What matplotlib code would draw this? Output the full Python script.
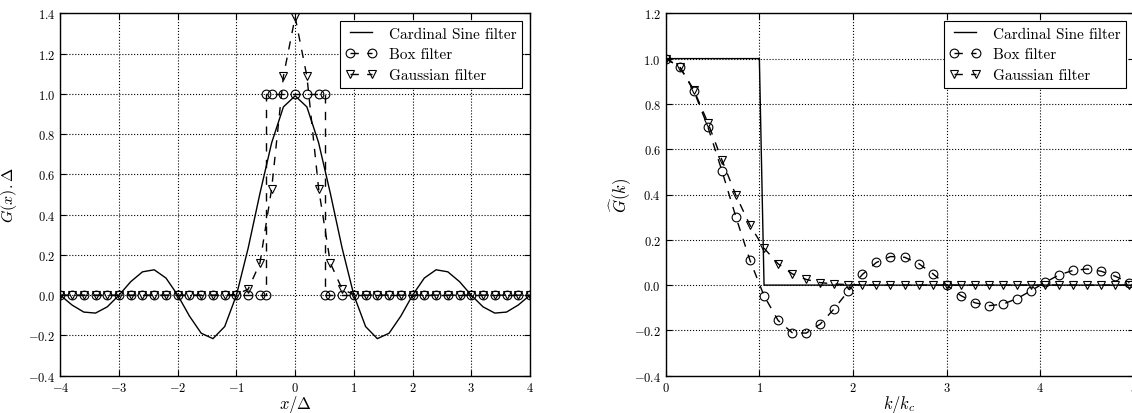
import matplotlib
matplotlib.use("Agg")
import matplotlib.pyplot as plt
import numpy as np

plt.rcParams.update({
    "font.family": "serif",
    "font.serif": ["cmr10", "DejaVu Serif"],
    "mathtext.fontset": "cm",
    "axes.formatter.use_mathtext": True,
    "axes.unicode_minus": True,
    "lines.dashed_pattern": [6, 6],
})

# ---------------- Left panel data: physical space ----------------
x_sinc = [-4.0, -3.8, -3.6, -3.4, -3.2, -3.0, -2.8, -2.6, -2.4, -2.2, -2.0,
          -1.8, -1.6, -1.4, -1.2, -1.0, -0.8, -0.6, -0.4, -0.2, 0.0,
          0.2, 0.4, 0.6, 0.8, 1.0, 1.2, 1.4, 1.6, 1.8, 2.0,
          2.2, 2.4, 2.6, 2.8, 3.0, 3.2, 3.4, 3.6, 3.8, 4.0]
g_sinc = [0.000, -0.049, -0.084, -0.089, -0.058, 0.000, 0.067, 0.116, 0.126, 0.085, 0.000,
          -0.104, -0.189, -0.216, -0.156, 0.000, 0.234, 0.505, 0.757, 0.935, 0.990,
          0.935, 0.757, 0.505, 0.234, 0.000, -0.156, -0.216, -0.189, -0.104, 0.000,
          0.085, 0.126, 0.116, 0.067, 0.000, -0.058, -0.089, -0.084, -0.049, 0.000]

x_box = [-4.0, -3.8, -3.6, -3.4, -3.2, -3.0, -2.8, -2.6, -2.4, -2.2, -2.0,
         -1.8, -1.6, -1.4, -1.2, -1.0, -0.8, -0.6, -0.5, -0.5, -0.4, -0.2, 0.0,
         0.2, 0.4, 0.5, 0.5, 0.6, 0.8, 1.0, 1.2, 1.4, 1.6, 1.8, 2.0,
         2.2, 2.4, 2.6, 2.8, 3.0, 3.2, 3.4, 3.6, 3.8, 4.0]
g_box = [0, 0, 0, 0, 0, 0, 0, 0, 0, 0, 0,
         0, 0, 0, 0, 0, 0, 0, 0, 1, 1, 1, 1,
         1, 1, 1, 0, 0, 0, 0, 0, 0, 0, 0, 0,
         0, 0, 0, 0, 0, 0, 0, 0, 0, 0]

x_gauss = x_sinc
g_gauss = [0.0, 0.0, 0.0, 0.0, 0.0, 0.0, 0.0, 0.0, 0.0, 0.0, 0.0,
           0.0, 0.0, 0.0, 0.0, 0.003, 0.030, 0.159, 0.529, 1.087, 1.382,
           1.087, 0.529, 0.159, 0.030, 0.003, 0.0, 0.0, 0.0, 0.0, 0.0,
           0.0, 0.0, 0.0, 0.0, 0.0, 0.0, 0.0, 0.0, 0.0, 0.0]

# ---------------- Right panel data: spectral space ----------------
k_sharp = [0.0, 1.0, 1.05, 5.0]
gk_sharp = [1.0, 1.0, 0.0, 0.0]

k = [0.0, 0.15, 0.3, 0.45, 0.6, 0.75, 0.9, 1.05, 1.2, 1.35, 1.5, 1.65,
     1.8, 1.95, 2.1, 2.25, 2.4, 2.55, 2.7, 2.85, 3.0, 3.15, 3.3, 3.45,
     3.6, 3.75, 3.9, 4.05, 4.2, 4.35, 4.5, 4.65, 4.8, 4.95]
gk_box = [1.000, 0.963, 0.858, 0.699, 0.505, 0.300, 0.109, -0.047, -0.156, -0.210, -0.212, -0.172,
          -0.104, -0.026, 0.047, 0.100, 0.126, 0.123, 0.095, 0.051, 0.000, -0.046, -0.078, -0.091,
          -0.084, -0.060, -0.025, 0.012, 0.045, 0.065, 0.071, 0.061, 0.039, 0.010]
gk_gauss = [1.000, 0.964, 0.862, 0.717, 0.553, 0.396, 0.264, 0.163, 0.094, 0.050, 0.025, 0.011,
            0.005, 0.002, 0.001, 0.0, 0.0, 0.0, 0.0, 0.0, 0.0, 0.0, 0.0, 0.0,
            0.0, 0.0, 0.0, 0.0, 0.0, 0.0, 0.0, 0.0, 0.0, 0.0]

labels = ["Cardinal Sine filter", "Box filter", "Gaussian filter"]

W, H = 1132, 414
fig = plt.figure(figsize=(W / 100, H / 100), dpi=100)
fig.patch.set_facecolor("white")

ax_h = 362.4
axL = fig.add_axes([60.3 / W, (H - 376.7) / H, 469.7 / W, ax_h / H])
axR = fig.add_axes([665.7 / W, (H - 376.7) / H, 468.3 / W, ax_h / H])

mk = dict(markersize=6.3, markerfacecolor="none", markeredgecolor="k", markeredgewidth=0.8)

axL.plot(x_sinc, g_sinc, "k-", lw=1.0, label=labels[0])
axL.plot(x_box, g_box, "k--o", lw=1.0, label=labels[1], **mk)
axL.plot(x_gauss, g_gauss, "k--v", lw=1.0, label=labels[2], **mk)

axR.plot(k_sharp, gk_sharp, "k-", lw=1.0, label=labels[0])
axR.plot(k, gk_box, "k--o", lw=1.0, label=labels[1], **mk)
axR.plot(k, gk_gauss, "k--v", lw=1.0, label=labels[2], **mk)

axL.set_xlim(-4, 4)
axL.set_ylim(-0.4, 1.4)
axL.set_xticks(np.arange(-4, 5, 1))
axL.set_yticks(np.arange(-0.4, 1.41, 0.2))
axL.set_xlabel(r"$x/\Delta$", fontsize=12)
axL.set_ylabel(r"$G(x).\Delta$", fontsize=11.5)
axL.xaxis.set_label_coords(0.5, (376.7 - 394) / ax_h)
axL.yaxis.set_label_coords((19 - 60.3) / 469.7, 0.5)

axR.set_xlim(0, 5)
axR.set_ylim(-0.4, 1.2)
axR.set_xticks(np.arange(0, 6, 1))
axR.set_yticks(np.arange(-0.4, 1.21, 0.2))
axR.set_xlabel(r"$k/k_c$", fontsize=12)
axR.set_ylabel(r"$\widehat{G}(k)$", fontsize=12)
axR.xaxis.set_label_coords(0.5, (376.7 - 394) / ax_h)
axR.yaxis.set_label_coords((634 - 665.7) / 468.3, 0.5)

for ax in (axL, axR):
    ax.grid(True, color="k", linestyle=":", linewidth=0.8)
    ax.tick_params(direction="in", top=True, right=True, length=4, width=0.8,
                   labelsize=9)
    ax.tick_params(axis="y", pad=3.5)
    ax.tick_params(axis="x", pad=4)
    for s in ax.spines.values():
        s.set_linewidth(1.0)
    leg = ax.legend(loc="upper right", numpoints=2, fontsize=11, fancybox=False,
                    framealpha=1, edgecolor="k", borderaxespad=0.5,
                    handlelength=2.0, handletextpad=0.8, borderpad=0.4,
                    labelspacing=0.45)
    leg.get_frame().set_linewidth(0.8)

fig.savefig("out.png", dpi=100)
